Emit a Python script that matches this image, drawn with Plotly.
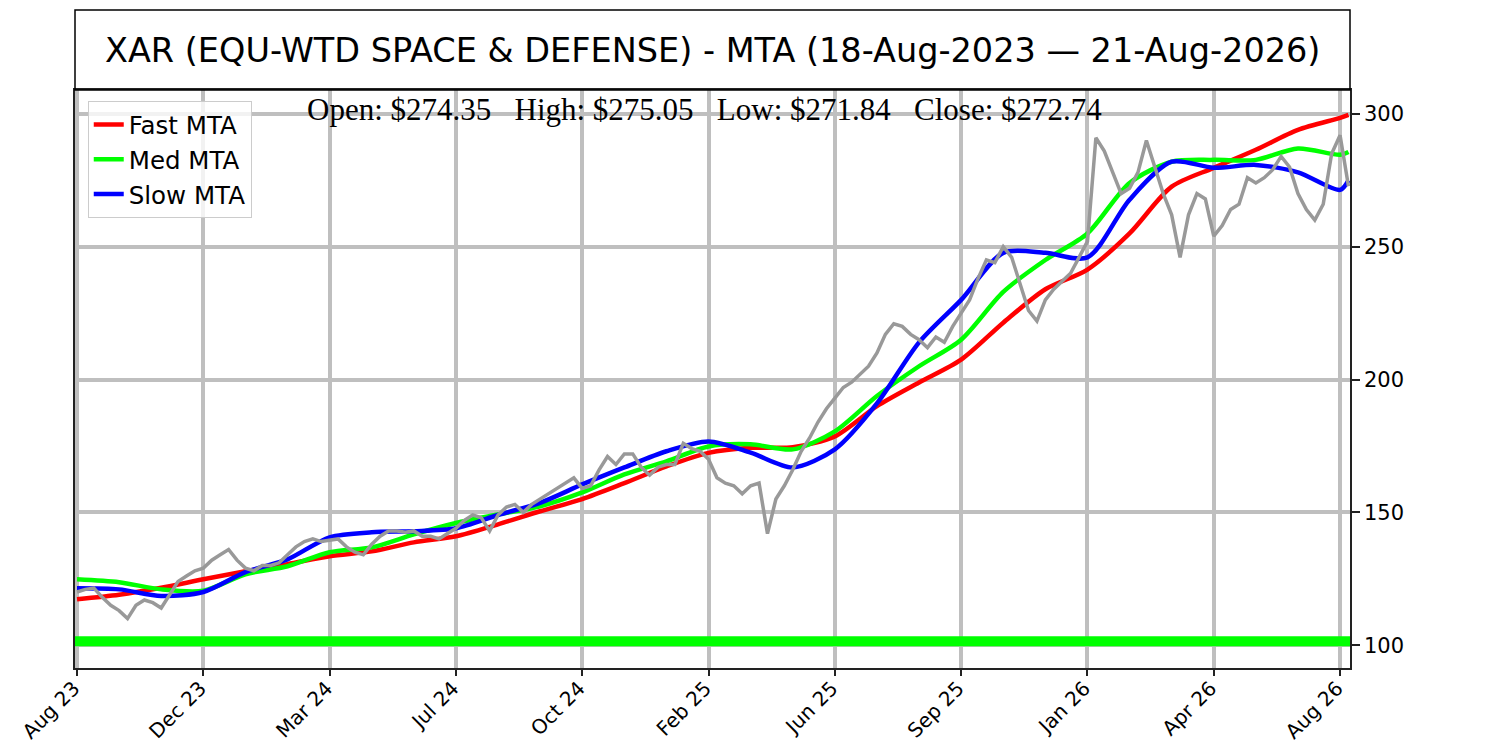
import plotly.graph_objects as go

# ──────────────────────────────────────────────
#  Data
# ──────────────────────────────────────────────
TITLE = "XAR (EQU-WTD SPACE & DEFENSE) - MTA (18-Aug-2023 \u2014 21-Aug-2026)"
OHLC_TEXT = ["Open: $274.35", "High: $275.05", "Low: $271.84", "Close: $272.74"]

TICK_IDX = [0, 75, 150, 225, 300, 375, 450, 525, 600, 675, 750]
TICK_LABELS = ["Aug 23", "Dec 23", "Mar 24", "Jul 24", "Oct 24", "Feb 25",
               "Jun 25", "Sep 25", "Jan 26", "Apr 26", "Aug 26"]

# closing price, sampled every 5 bars
PRICE_IDX = list(range(0, 756, 5))
PRICE = [
    120, 121, 121.5, 118, 115, 113, 110, 115, 117, 116,
    114, 119, 124, 126, 128, 129, 132, 134, 136, 132,
    129, 128, 130, 130, 131, 134, 137, 139, 140, 139,
    139.5, 140, 137, 135, 134, 138, 141, 143, 143, 142.5,
    143, 141, 141, 140, 142, 144, 147, 149, 148, 143,
    149, 152, 153, 150, 153, 155, 157, 159, 161, 163,
    159, 160, 166, 171, 168, 172, 172, 167, 164, 167,
    168, 168, 176, 174, 173, 170, 163, 161, 160, 157,
    160, 161, 142, 155, 160, 166, 173, 178, 184, 189,
    193, 197, 199, 202, 205, 210, 217, 221, 220, 217,
    215, 212, 216, 214, 220, 225, 230, 238, 245, 244,
    250, 246, 236, 226, 222, 230, 234, 237, 240, 246,
    252, 291, 286, 278, 270, 272, 278, 290, 280, 270,
    262, 246, 262, 270, 268, 254, 258, 264, 266, 276,
    274, 276, 279, 284, 280, 270, 264, 260, 266, 285,
    292, 272.74,
]

# moving trend averages, sampled every 25 bars (+ last bar)
MTA_IDX = list(range(0, 751, 25)) + [755]
FAST_MTA = [
    117.3, 119.0, 121.6, 124.8, 127.8, 130.5, 133.5, 135.3, 138.7, 141.0,
    145.5, 150.4, 155.0, 161.0, 167.3, 172.4, 174.3, 174.5, 178.6, 190.0,
    198.9, 207.5, 221.4, 234.0, 241.4, 255.0, 272.6, 279.7, 286.5, 294.0,
    298.5, 299.6,
]
MED_MTA = [
    124.8, 123.7, 121.0, 120.5, 126.7, 129.7, 135.0, 136.8, 141.7, 146.0,
    149.2, 152.3, 157.5, 164.3, 169.2, 174.8, 175.6, 173.7, 180.5, 193.8,
    205.0, 215.0, 233.0, 245.0, 255.0, 274.0, 282.0, 282.7, 282.7, 287.0,
    284.6, 285.7,
]
SLOW_MTA = [
    121.4, 121.0, 118.5, 120.0, 127.5, 132.3, 140.6, 142.5, 142.9, 144.0,
    149.0, 153.6, 160.5, 166.9, 173.0, 176.7, 172.5, 166.9, 173.7, 191.0,
    214.0, 230.0, 247.7, 247.7, 246.0, 267.7, 282.0, 279.7, 280.8, 278.0,
    271.4, 275.0,
]

BASE_LINE = 101.5
X_RANGE = [-1.2, 755.9]
Y_RANGE = [91.4, 309.0]
Y_TICKS = [100, 150, 200, 250, 300]

# ──────────────────────────────────────────────
#  Figure
# ──────────────────────────────────────────────
# page body adds an 8px offset, so margins are shifted to compensate
W, H = 1500, 750
M_L, M_R, M_T, M_B = 67, 158, 82, 90
plot_h = H - M_T - M_B

fig = go.Figure()

for name, vals, color in [("Fast MTA", FAST_MTA, "#ff0000"),
                          ("Med MTA", MED_MTA, "#00ff00"),
                          ("Slow MTA", SLOW_MTA, "#0000ff")]:
    fig.add_trace(go.Scatter(
        x=MTA_IDX, y=vals, name=name, mode="lines",
        line=dict(color=color, width=4.5, shape="spline", smoothing=0.8),
        legendgroup=name,
    ))

fig.add_trace(go.Scatter(
    x=PRICE_IDX, y=PRICE, mode="lines", showlegend=False,
    line=dict(color="#999999", width=3.5),
))

# thick base reference line
fig.add_shape(type="line", xref="paper", x0=0, x1=1, yref="y",
              y0=BASE_LINE, y1=BASE_LINE,
              line=dict(color="#00ff00", width=10), layer="above")

# title box above plot
box_top = 1 + 80 / plot_h
fig.add_shape(type="rect", xref="paper", yref="paper",
              x0=0, x1=1, y0=1, y1=box_top,
              line=dict(color="black", width=1.5))
fig.add_annotation(xref="paper", yref="paper", x=0.5, y=(1 + box_top) / 2,
                   text=TITLE, showarrow=False, xanchor="center", yanchor="middle",
                   font=dict(family="DejaVu Sans", size=33.5, color="black"))

gap = "\u00a0" * 3
fig.add_annotation(xref="paper", yref="paper", x=0.494, y=1.0,
                   text=gap.join(OHLC_TEXT), showarrow=False,
                   xanchor="center", yanchor="top",
                   font=dict(family="Liberation Serif", size=31, color="black"))

grid = dict(showgrid=True, gridcolor="#bfbfbf", gridwidth=4)

fig.update_layout(
    width=W, height=H,
    margin=dict(l=M_L, r=M_R, t=M_T, b=M_B),
    paper_bgcolor="white", plot_bgcolor="white",
    font=dict(family="DejaVu Sans", size=20, color="black"),
    showlegend=True,
    legend=dict(
        x=0.01, y=0.981, xanchor="left", yanchor="top",
        bgcolor="rgba(255,255,255,0.8)", bordercolor="#cccccc", borderwidth=1,
        font=dict(family="DejaVu Sans", size=24.5, color="black"),
        itemwidth=30, traceorder="grouped", tracegroupgap=0,
    ),
    xaxis=dict(
        range=X_RANGE, tickmode="array", tickvals=TICK_IDX, ticktext=TICK_LABELS,
        tickangle=-45, ticks="outside", ticklen=6, tickwidth=1.5, tickcolor="#222",
        tickfont=dict(size=20), ticklabelstandoff=-7, ticklabelshift=-3,
        showline=True, linecolor="#222", linewidth=1.5, mirror=True,
        zeroline=False, automargin=False, **grid,
    ),
    yaxis=dict(
        range=Y_RANGE, side="right", tickvals=Y_TICKS,
        ticks="outside", ticklen=8, tickwidth=1.5, tickcolor="#222",
        tickfont=dict(size=21),
        showline=True, linecolor="#222", linewidth=1.5, mirror=True,
        zeroline=False, automargin=False, **grid,
    ),
)

fig.write_html("out.html")
